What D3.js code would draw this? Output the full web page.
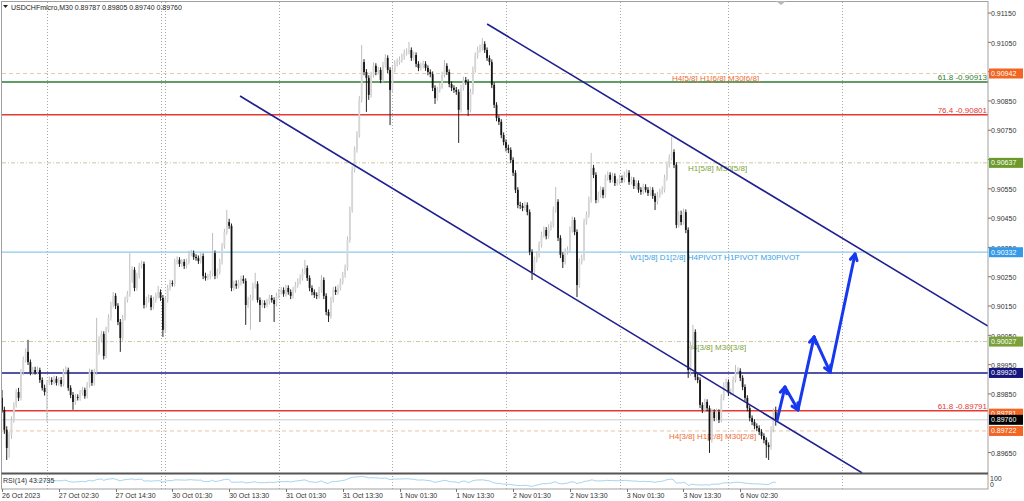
<!DOCTYPE html>
<html>
<head>
<meta charset="utf-8">
<script src="https://cdn.jsdelivr.net/npm/d3@7"></script>
<style>
body { margin: 0; background: #fff; }
svg { display: block; font-family: "Liberation Sans", Arial, sans-serif; }
</style>
</head>
<body>
<svg id="chart" width="1024" height="501"></svg>
<script>
// USDCHFmicro M30 candles (open = previous close)
const symbolTitle = "USDCHFmicro,M30  0.89787 0.89805 0.89740 0.89760";
const rsiTitle = "RSI(14) 43.2735";
const firstOpen = 0.89835;

const closes = [
	0.89794,0.89726,0.89664,0.89709,0.89760,0.89811,0.89855,0.89835,0.89923,0.89964,0.89992,0.89957,
	0.89923,0.89930,0.89923,0.89930,0.89896,0.89869,0.89855,0.89886,0.89896,0.89889,0.89900,0.89886,
	0.89896,0.89882,0.89923,0.89930,0.89869,0.89845,0.89821,0.89838,0.89835,0.89852,0.89862,0.89841,
	0.89879,0.89923,0.89886,0.89923,0.89992,0.90033,0.90053,0.89978,0.90067,0.90108,0.90152,0.90183,
	0.90149,0.90094,0.90039,0.90108,0.90169,0.90189,0.90237,0.90272,0.90210,0.90251,0.90285,0.90292,
	0.90152,0.90169,0.90176,0.90145,0.90169,0.90183,0.90196,0.90176,0.90067,0.90169,0.90210,0.90227,
	0.90224,0.90299,0.90306,0.90292,0.90299,0.90285,0.90299,0.90326,0.90329,0.90316,0.90312,0.90302,
	0.90319,0.90251,0.90244,0.90248,0.90258,0.90329,0.90251,0.90265,0.90299,0.90353,0.90401,0.90435,
	0.90422,0.90210,0.90224,0.90217,0.90227,0.90241,0.90234,0.90152,0.90169,0.90176,0.90217,0.90224,
	0.90169,0.90152,0.90159,0.90152,0.90162,0.90176,0.90169,0.90155,0.90183,0.90196,0.90203,0.90190,
	0.90210,0.90196,0.90183,0.90203,0.90220,0.90231,0.90244,0.90265,0.90278,0.90244,0.90210,0.90196,
	0.90186,0.90183,0.90203,0.90237,0.90183,0.90128,0.90114,0.90169,0.90203,0.90196,0.90210,0.90231,
	0.90254,0.90278,0.90374,0.90476,0.90613,0.90681,0.90732,0.90852,0.90981,0.90947,0.90927,0.90869,
	0.90937,0.90968,0.90947,0.90954,0.90920,0.90971,0.90995,0.90954,0.90886,0.90954,0.90975,0.90981,
	0.90988,0.90998,0.91012,0.91016,0.91022,0.90995,0.91005,0.90975,0.90961,0.90968,0.90975,0.90961,
	0.90947,0.90940,0.90893,0.90858,0.90886,0.90899,0.90937,0.90968,0.90947,0.90906,0.90893,0.90886,
	0.90879,0.90818,0.90893,0.90920,0.90913,0.90818,0.90879,0.90954,0.91002,0.91022,0.91029,0.91043,
	0.91022,0.90995,0.90981,0.90903,0.90835,0.90790,0.90777,0.90732,0.90708,0.90688,0.90681,0.90647,
	0.90603,0.90545,0.90493,0.90490,0.90483,0.90493,0.90469,0.90333,0.90265,0.90306,0.90323,0.90357,
	0.90391,0.90408,0.90387,0.90415,0.90425,0.90476,0.90504,0.90381,0.90323,0.90299,0.90333,0.90340,
	0.90408,0.90442,0.90401,0.90220,0.90299,0.90312,0.90435,0.90459,0.90510,0.90620,0.90596,0.90510,
	0.90527,0.90545,0.90527,0.90585,0.90596,0.90579,0.90592,0.90568,0.90572,0.90585,0.90579,0.90596,
	0.90603,0.90572,0.90579,0.90558,0.90568,0.90545,0.90538,0.90555,0.90545,0.90534,0.90545,0.90524,
	0.90504,0.90527,0.90538,0.90545,0.90585,0.90630,0.90654,0.90674,0.90630,0.90425,0.90459,0.90435,
	0.90469,0.90408,0.89930,0.90015,0.90060,0.89906,0.89896,0.89811,0.89794,0.89821,0.89800,0.89691,
	0.89787,0.89766,0.89787,0.89760,0.89835,0.89876,0.89889,0.89852,0.89855,0.89896,0.89923,0.89927,
	0.89903,0.89872,0.89835,0.89800,0.89766,0.89753,0.89739,0.89732,0.89719,0.89705,0.89691,0.89674,
	0.89667,0.89726,0.89787,0.89760
];

const highs = [
	0.89862,0.89805,0.89738,0.89718,0.89772,0.89820,0.89866,0.89869,0.89933,0.89976,0.90004,0.90033,
	0.89966,0.89940,0.89941,0.89942,0.89938,0.89905,0.89880,0.89895,0.89908,0.89905,0.89911,0.89909,
	0.89905,0.89906,0.89934,0.89943,0.89938,0.89878,0.89855,0.89848,0.89847,0.89862,0.89873,0.89870,
	0.89889,0.89935,0.89931,0.89934,0.90108,0.90045,0.90064,0.90062,0.90078,0.90120,0.90163,0.90196,
	0.90192,0.90158,0.90104,0.90118,0.90180,0.90200,0.90329,0.90284,0.90281,0.90262,0.90296,0.90303,
	0.90300,0.90180,0.90188,0.90185,0.90180,0.90194,0.90217,0.90205,0.90186,0.90180,0.90221,0.90238,
	0.90236,0.90310,0.90318,0.90315,0.90309,0.90308,0.90310,0.90337,0.90340,0.90338,0.90325,0.90321,
	0.90330,0.90328,0.90262,0.90258,0.90269,0.90398,0.90338,0.90276,0.90310,0.90364,0.90412,0.90476,
	0.90446,0.90430,0.90235,0.90236,0.90238,0.90252,0.90253,0.90243,0.90180,0.90187,0.90228,0.90262,
	0.90233,0.90178,0.90170,0.90168,0.90173,0.90187,0.90186,0.90178,0.90194,0.90207,0.90214,0.90212,
	0.90221,0.90219,0.90205,0.90214,0.90231,0.90243,0.90256,0.90276,0.90306,0.90287,0.90253,0.90219,
	0.90205,0.90195,0.90214,0.90254,0.90246,0.90192,0.90137,0.90180,0.90214,0.90215,0.90221,0.90242,
	0.90265,0.90290,0.90386,0.90488,0.90625,0.90693,0.90745,0.90865,0.91039,0.90991,0.90957,0.90936,
	0.90948,0.90980,0.90977,0.90965,0.90963,0.90982,0.91008,0.91004,0.90963,0.90966,0.90987,0.90993,
	0.91000,0.91010,0.91024,0.91028,0.91050,0.91031,0.91017,0.91014,0.90984,0.90979,0.90986,0.90984,
	0.90970,0.90956,0.90949,0.90902,0.90897,0.90910,0.90948,0.90988,0.90977,0.90956,0.90915,0.90902,
	0.90896,0.90888,0.90904,0.90931,0.90930,0.90922,0.90890,0.90966,0.91014,0.91034,0.91041,0.91063,
	0.91052,0.91031,0.91004,0.90990,0.90912,0.90844,0.90799,0.90786,0.90741,0.90717,0.90699,0.90690,
	0.90656,0.90612,0.90554,0.90504,0.90500,0.90505,0.90502,0.90478,0.90342,0.90317,0.90335,0.90369,
	0.90402,0.90420,0.90418,0.90427,0.90437,0.90488,0.90555,0.90513,0.90390,0.90332,0.90345,0.90352,
	0.90420,0.90454,0.90451,0.90410,0.90311,0.90324,0.90447,0.90471,0.90522,0.90671,0.90630,0.90605,
	0.90539,0.90557,0.90554,0.90597,0.90608,0.90605,0.90603,0.90601,0.90583,0.90596,0.90594,0.90607,
	0.90615,0.90612,0.90590,0.90588,0.90579,0.90577,0.90554,0.90566,0.90564,0.90554,0.90556,0.90554,
	0.90533,0.90538,0.90549,0.90557,0.90597,0.90642,0.90666,0.90725,0.90683,0.90639,0.90472,0.90474,
	0.90481,0.90478,0.90417,0.90027,0.90084,0.90069,0.89917,0.89905,0.89820,0.89832,0.89830,0.89809,
	0.89798,0.89796,0.89799,0.89796,0.89847,0.89888,0.89901,0.89898,0.89866,0.89908,0.89947,0.89939,
	0.89936,0.89912,0.89881,0.89844,0.89809,0.89775,0.89762,0.89748,0.89741,0.89728,0.89714,0.89700,
	0.89683,0.89738,0.89799,0.89805
];

const lows = [
	0.89784,0.89712,0.89623,0.89630,0.89695,0.89750,0.89802,0.89824,0.89826,0.89912,0.89955,0.89947,
	0.89912,0.89913,0.89914,0.89915,0.89886,0.89860,0.89843,0.89753,0.89878,0.89879,0.89881,0.89877,
	0.89876,0.89873,0.89874,0.89914,0.89859,0.89834,0.89794,0.89811,0.89826,0.89825,0.89843,0.89832,
	0.89833,0.89870,0.89876,0.89877,0.89913,0.89982,0.90024,0.89966,0.89970,0.90058,0.90099,0.90143,
	0.90138,0.90083,0.89992,0.90030,0.90099,0.90160,0.90180,0.90228,0.90199,0.90201,0.90242,0.90276,
	0.90140,0.90143,0.90160,0.90134,0.90137,0.90160,0.90174,0.90166,0.90043,0.90058,0.90160,0.90201,
	0.90215,0.90215,0.90290,0.90282,0.90283,0.90275,0.90276,0.90290,0.90318,0.90306,0.90303,0.90292,
	0.90293,0.90240,0.90235,0.90236,0.90239,0.90249,0.90240,0.90242,0.90256,0.90290,0.90344,0.90392,
	0.90412,0.90199,0.90201,0.90207,0.90208,0.90218,0.90225,0.90084,0.90142,0.90067,0.90167,0.90208,
	0.90160,0.90094,0.90143,0.90141,0.90144,0.90153,0.90160,0.90094,0.90147,0.90174,0.90187,0.90180,
	0.90181,0.90187,0.90172,0.90174,0.90194,0.90211,0.90222,0.90235,0.90256,0.90234,0.90199,0.90185,
	0.90176,0.90172,0.90174,0.90194,0.90172,0.90117,0.90094,0.90105,0.90160,0.90186,0.90187,0.90201,
	0.90222,0.90245,0.90269,0.90365,0.90467,0.90604,0.90672,0.90723,0.90843,0.90936,0.90811,0.90852,
	0.90860,0.90928,0.90936,0.90938,0.90909,0.90911,0.90962,0.90943,0.90766,0.90877,0.90945,0.90966,
	0.90972,0.90979,0.90989,0.91003,0.91007,0.90985,0.90986,0.90964,0.90950,0.90952,0.90959,0.90951,
	0.90936,0.90929,0.90882,0.90838,0.90849,0.90877,0.90890,0.90928,0.90937,0.90895,0.90882,0.90876,
	0.90869,0.90705,0.90809,0.90884,0.90903,0.90797,0.90809,0.90870,0.90945,0.90993,0.91013,0.91020,
	0.91012,0.90985,0.90970,0.90892,0.90824,0.90779,0.90766,0.90721,0.90697,0.90676,0.90670,0.90636,
	0.90592,0.90534,0.90482,0.90479,0.90472,0.90474,0.90458,0.90322,0.90237,0.90256,0.90297,0.90314,
	0.90348,0.90382,0.90376,0.90378,0.90406,0.90416,0.90467,0.90370,0.90312,0.90278,0.90290,0.90324,
	0.90331,0.90399,0.90390,0.90179,0.90211,0.90290,0.90303,0.90426,0.90450,0.90501,0.90585,0.90499,
	0.90501,0.90518,0.90516,0.90518,0.90576,0.90569,0.90570,0.90558,0.90559,0.90563,0.90569,0.90570,
	0.90587,0.90562,0.90563,0.90548,0.90549,0.90535,0.90528,0.90529,0.90536,0.90524,0.90525,0.90514,
	0.90476,0.90495,0.90518,0.90529,0.90536,0.90576,0.90621,0.90645,0.90619,0.90414,0.90416,0.90424,
	0.90426,0.90397,0.89903,0.89910,0.90006,0.89895,0.89885,0.89800,0.89783,0.89785,0.89789,0.89647,
	0.89682,0.89755,0.89757,0.89749,0.89751,0.89826,0.89867,0.89841,0.89843,0.89846,0.89887,0.89914,
	0.89892,0.89861,0.89824,0.89789,0.89755,0.89742,0.89728,0.89721,0.89708,0.89694,0.89680,0.89630,
	0.89623,0.89658,0.89717,0.89740
];

// time axis (bar index of each label)
const timeTickBars = [0, 24, 48, 72, 96, 120, 144, 168, 192, 216, 240, 264, 288, 312];
const timeTickLabels = ["26 Oct 2023", "27 Oct 02:30", "27 Oct 14:30", "30 Oct 01:30", "30 Oct 13:30",
	"31 Oct 01:30", "31 Oct 13:30", "1 Nov 01:30", "1 Nov 13:30", "2 Nov 01:30", "2 Nov 13:30",
	"3 Nov 01:30", "3 Nov 13:30", "6 Nov 02:30"];
const daySeparatorBars = [19, 67, 69, 117, 165, 213, 261, 307, 355];

// 0.89750 sits under the current-price tag, so it is left out
const priceTicks = [0.89650, 0.89850, 0.89950, 0.90050, 0.90150, 0.90250, 0.90350,
	0.90450, 0.90550, 0.90650, 0.90750, 0.90850, 0.90950, 0.91050, 0.91150];

// horizontal levels and their notes
const levelPrices = [0.90942, 0.90913, 0.90801, 0.90637, 0.90332, 0.90027, 0.89920, 0.89791, 0.89760, 0.89722];
const levelNotes = ["H4[5/8] H1[6/8] M30[6/8]", "61.8 -0.90913", "76.4 -0.90801", "H1[5/8] M30[5/8]",
	"W1[5/8] D1[2/8] H4PIVOT H1PIVOT M30PIVOT", "H4[3/8] M30[3/8]", "", "61.8 -0.89791", "", "H4[3/8] H1[2/8] M30[2/8]"];

// price tags on the right scale
const tagPrices = [0.90942, 0.90637, 0.90332, 0.90027, 0.89920, 0.89781, 0.89760, 0.89722];

// channel trendlines: [start bar, end bar] and [start price, end price]
const channelBars = [[205, 416.7], [100.6, 363.5]];
const channelPrices = [[0.91111, 0.90080], [0.90865, 0.89579]];

// forecast zig-zag
const forecastBars = [327.6, 330.9, 336.4, 343.2, 350.0, 360.5];
const forecastPrices = [0.89760, 0.89872, 0.89794, 0.90043, 0.89923, 0.90326];

// ---------------------------------------------------------------
const svg = d3.select("#chart");
const plotLeft = 2, plotRight = 988, plotTop = 2, plotBottom = 473;
const rsiTop = 475, rsiBottom = 488;

const x = d3.scaleLinear().domain([0, 416.7]).range([plotLeft, plotRight]);
const y = d3.scaleLinear().domain([0.895785, 0.91186]).range([plotBottom, plotTop]);
const yRsi = d3.scaleLinear().domain([0, 100]).range([rsiBottom, rsiTop]);

const bars = closes.map((c, i) => ({
	i: i,
	o: i === 0 ? firstOpen : closes[i - 1],
	h: highs[i],
	l: lows[i],
	c: c
}));

function rsi(values, n) {
	const out = values.map(() => null);
	let gain = 0, loss = 0;
	for (let i = 1; i <= n; i++) {
		const d = values[i] - values[i - 1];
		if (d > 0) gain += d; else loss -= d;
	}
	gain /= n; loss /= n;
	out[n] = 100 - 100 / (1 + gain / loss);
	for (let i = n + 1; i < values.length; i++) {
		const d = values[i] - values[i - 1];
		gain = (gain * (n - 1) + Math.max(d, 0)) / n;
		loss = (loss * (n - 1) + Math.max(-d, 0)) / n;
		out[i] = loss === 0 ? 100 : 100 - 100 / (1 + gain / loss);
	}
	return out;
}
const rsiValues = rsi(closes, 14);

svg.append("rect").attr("width", 1024).attr("height", 501).attr("fill", "#fff");

const defs = svg.append("defs");
defs.append("clipPath").attr("id", "plotClip")
	.append("rect").attr("x", plotLeft).attr("y", plotTop)
	.attr("width", plotRight - plotLeft).attr("height", plotBottom - plotTop);

// day separators
svg.append("g").selectAll("line")
	.data(daySeparatorBars)
	.enter().append("line")
	.attr("x1", d => Math.round(x(d)) + 0.5)
	.attr("x2", d => Math.round(x(d)) + 0.5)
	.attr("y1", plotTop)
	.attr("y2", rsiBottom + 1)
	.attr("stroke", "#a9a9a9")
	.attr("stroke-dasharray", "1,2");

// level lines
const levelStyle = [
	{ stroke: "#e6cba8", width: 1, dash: "4,3", note: "#ef6a35", nx: 672, below: true },
	{ stroke: "#2e7d32", width: 1.6, dash: null, note: "#2e7d32", nx: 987, below: false },
	{ stroke: "#e53935", width: 1.6, dash: null, note: "#e53935", nx: 987, below: false },
	{ stroke: "#cfc79c", width: 1, dash: "4,2,1,2", note: "#7ea33a", nx: 688, below: true },
	{ stroke: "#8ccaee", width: 1.2, dash: null, note: "#3a9fe2", nx: 630, below: true },
	{ stroke: "#cfc79c", width: 1, dash: "4,2,1,2", note: "#7ea33a", nx: 687, below: true },
	{ stroke: "#1a1a8c", width: 1.6, dash: null, note: "#1a1a8c", nx: 0, below: true },
	{ stroke: "#e53935", width: 1.6, dash: null, note: "#e53935", nx: 987, below: false },
	{ stroke: "#cdcdcd", width: 1, dash: null, note: "#000", nx: 0, below: true },
	{ stroke: "#e8c3a3", width: 1, dash: "4,3", note: "#ef6a35", nx: 669, below: true }
];

const levels = svg.append("g").attr("class", "levels");
levels.selectAll("line")
	.data(levelPrices)
	.enter().append("line")
	.attr("x1", plotLeft)
	.attr("x2", plotRight)
	.attr("y1", d => y(d))
	.attr("y2", d => y(d))
	.attr("stroke", (d, i) => levelStyle[i].stroke)
	.attr("stroke-width", (d, i) => levelStyle[i].width)
	.attr("stroke-dasharray", (d, i) => levelStyle[i].dash);

levels.selectAll("text")
	.data(levelPrices)
	.enter().append("text")
	.attr("x", (d, i) => levelStyle[i].nx)
	.attr("y", (d, i) => levelStyle[i].below ? y(d) + 8 : y(d) - 2)
	.attr("text-anchor", (d, i) => levelStyle[i].below ? "start" : "end")
	.attr("font-size", "8px")
	.attr("fill", (d, i) => levelStyle[i].note)
	.text((d, i) => levelNotes[i]);

// candles
const candles = svg.append("g").attr("clip-path", "url(#plotClip)");
const candle = candles.selectAll("g")
	.data(bars)
	.enter().append("g");

candle.append("line")
	.attr("x1", d => x(d.i))
	.attr("x2", d => x(d.i))
	.attr("y1", d => y(d.h))
	.attr("y2", d => y(d.l))
	.attr("stroke", d => d.c >= d.o ? "#bdbdbd" : "#222")
	.attr("stroke-width", 1);

candle.append("rect")
	.attr("x", d => x(d.i) - 0.9)
	.attr("width", 1.8)
	.attr("y", d => y(Math.max(d.o, d.c)))
	.attr("height", d => Math.max(0.8, Math.abs(y(d.o) - y(d.c))))
	.attr("fill", d => d.c >= d.o ? "#d6d6d6" : "#151515");

// channel
const overlay = svg.append("g").attr("clip-path", "url(#plotClip)");
overlay.selectAll("line.channel")
	.data(channelBars)
	.enter().append("line")
	.attr("class", "channel")
	.attr("x1", d => x(d[0]))
	.attr("x2", d => x(d[1]))
	.attr("y1", (d, i) => y(channelPrices[i][0]))
	.attr("y2", (d, i) => y(channelPrices[i][1]))
	.attr("stroke", "#1f1f8f")
	.attr("stroke-width", 1.6);

// forecast arrows
const fc = forecastBars.map((b, i) => [x(b), y(forecastPrices[i])]);
const segs = d3.pairs(fc);
overlay.selectAll("line.fc")
	.data(segs)
	.enter().append("line")
	.attr("class", "fc")
	.attr("x1", d => d[0][0]).attr("y1", d => d[0][1])
	.attr("x2", d => d[1][0]).attr("y2", d => d[1][1])
	.attr("stroke", "#1638ee")
	.attr("stroke-width", 3)
	.attr("stroke-linecap", "round");

overlay.selectAll("path.head")
	.data(segs)
	.enter().append("path")
	.attr("class", "head")
	.attr("d", d => {
		const a = Math.atan2(d[1][1] - d[0][1], d[1][0] - d[0][0]);
		const len = 7, spread = 0.5;
		const tx = d[1][0], ty = d[1][1];
		const p1 = [tx - len * Math.cos(a - spread), ty - len * Math.sin(a - spread)];
		const p2 = [tx - len * Math.cos(a + spread), ty - len * Math.sin(a + spread)];
		return "M" + p1 + "L" + [tx, ty] + "L" + p2;
	})
	.attr("fill", "none")
	.attr("stroke", "#1638ee")
	.attr("stroke-width", 3)
	.attr("stroke-linejoin", "round")
	.attr("stroke-linecap", "round");

// rsi
const rsiLine = d3.line()
	.defined(d => d !== null)
	.x((d, i) => x(i))
	.y(d => yRsi(d));
svg.append("path")
	.datum(rsiValues)
	.attr("d", rsiLine)
	.attr("fill", "none")
	.attr("stroke", "#a6d4ec")
	.attr("stroke-width", 1);

svg.append("text")
	.attr("x", 3).attr("y", 483)
	.attr("font-size", "7px")
	.attr("fill", "#333")
	.text(rsiTitle);

// frame
const frame = svg.append("g").attr("fill", "none");
frame.append("rect")
	.attr("x", 1.5).attr("y", 1.5)
	.attr("width", plotRight - 1.5).attr("height", rsiBottom + 1 - 1.5)
	.attr("stroke", "#a0a0a0");
frame.append("line")
	.attr("x1", 1.5).attr("x2", plotRight)
	.attr("y1", plotBottom + 0.5).attr("y2", plotBottom + 0.5)
	.attr("stroke", "#555").attr("stroke-width", 2);

// chart shift marker
svg.append("path")
	.attr("d", "M776,1L786,1L781,5Z")
	.attr("fill", "#b8b8b8");

// price axis
const axisR = d3.axisRight(y)
	.tickValues(priceTicks)
	.tickFormat(d3.format(".5f"))
	.tickSize(3);
svg.append("g")
	.attr("transform", "translate(" + plotRight + ",0)")
	.call(axisR)
	.call(g => g.select(".domain").remove())
	.call(g => g.selectAll("line").attr("stroke", "#777"))
	.call(g => g.selectAll("text")
		.attr("x", 3)
		.attr("dy", "0.45em")
		.attr("font-family", "Liberation Sans, Arial, sans-serif")
		.attr("font-size", "7px")
		.attr("fill", "#333"));

// rsi scale labels
svg.append("text").attr("x", 990).attr("y", 481).attr("font-size", "7px").attr("fill", "#333").text("100");
svg.append("text").attr("x", 990).attr("y", 487).attr("font-size", "7px").attr("fill", "#333").text("0");

// price tags
const tagColor = ["#f26522", "#6b9a2a", "#3399e8", "#7ba13a", "#15157e", "#f26522", "#000000", "#f26522"];
const tags = svg.append("g").selectAll("g")
	.data(tagPrices)
	.enter().append("g")
	.attr("transform", d => "translate(989," + y(d) + ")");
tags.append("rect")
	.attr("x", 0).attr("y", -5)
	.attr("width", 34).attr("height", 10)
	.attr("fill", (d, i) => tagColor[i]);
tags.append("text")
	.attr("x", 2).attr("dy", "0.36em")
	.attr("font-size", "7px")
	.attr("fill", "#fff")
	.text(d => d3.format(".5f")(d));

// time axis
const tAxis = svg.append("g").attr("class", "time");
tAxis.selectAll("line")
	.data(timeTickBars)
	.enter().append("line")
	.attr("x1", d => Math.round(x(d)) + 0.5)
	.attr("x2", d => Math.round(x(d)) + 0.5)
	.attr("y1", rsiBottom + 1)
	.attr("y2", rsiBottom + 4)
	.attr("stroke", "#777");
tAxis.selectAll("text")
	.data(timeTickBars)
	.enter().append("text")
	.attr("x", d => x(d))
	.attr("y", 498)
	.attr("font-size", "7px")
	.attr("fill", "#333")
	.text((d, i) => timeTickLabels[i]);

// title
svg.append("path").attr("d", "M3,5L8,5L5.5,8Z").attr("fill", "#222");
svg.append("text")
	.attr("x", 11).attr("y", 9.5)
	.attr("font-size", "7px")
	.attr("fill", "#222")
	.text(symbolTitle);
</script>
</body>
</html>
